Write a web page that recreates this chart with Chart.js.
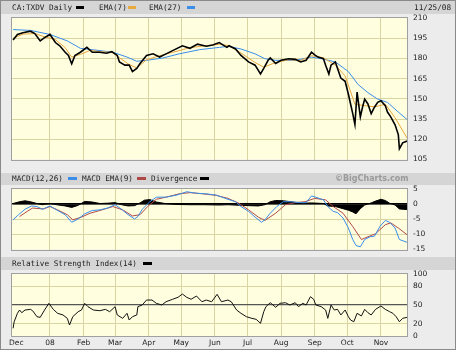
<!DOCTYPE html>
<html><head><meta charset="utf-8">
<script src="https://cdn.jsdelivr.net/npm/chart.js@4"></script>
<style>
html,body{margin:0;padding:0;background:#fff;}
#wrap{position:relative;width:459px;height:352px;overflow:hidden;background:#fff;}
#frame{position:absolute;left:0;top:0;width:454px;height:348px;background:#ececec;border:1px solid #8a8a8a;}
.band{position:absolute;left:1px;width:454px;background:#d5d5d5;}
.t{position:absolute;font-family:"DejaVu Sans Mono",monospace;font-size:7.7px;color:#222;white-space:nowrap;line-height:9px;z-index:5;}
.sw{position:absolute;height:3px;width:8px;z-index:5;}
canvas{position:absolute;left:0;z-index:3;}
</style></head>
<body>
<div id="wrap">
  <div id="frame"></div>
  <div class="band" style="top:1px;height:13px;"></div>
  <div class="band" style="top:173px;height:12px;"></div>
  <div class="band" style="top:257px;height:13px;"></div>

  <div class="t" style="left:12px;top:3px;">CA:TXDV Daily</div>
  <div class="sw" style="left:76px;top:6px;background:#000;"></div>
  <div class="t" style="left:99px;top:3px;">EMA(7)</div>
  <div class="sw" style="left:128px;top:6px;background:#e8a840;"></div>
  <div class="t" style="left:149px;top:3px;">EMA(27)</div>
  <div class="sw" style="left:187px;top:6px;background:#3a8ee8;"></div>
  <div class="t" style="left:414px;top:3px;">11/25/08</div>

  <div class="t" style="left:12px;top:174px;">MACD(12,26)</div>
  <div class="sw" style="left:68px;top:177px;width:9px;background:#3a8ee8;"></div>
  <div class="t" style="left:82px;top:174px;">MACD EMA(9)</div>
  <div class="sw" style="left:137px;top:177px;width:9px;background:#b04848;"></div>
  <div class="t" style="left:151px;top:174px;">Divergence</div>
  <div class="sw" style="left:200px;top:177px;width:9px;background:#000;"></div>
  <div class="t" style="left:335px;top:174px;font-family:'DejaVu Sans',sans-serif;font-weight:bold;font-size:8px;color:#9a9a9a;">©BigCharts.com</div>

  <div class="t" style="left:12px;top:259px;">Relative Strength Index(14)</div>
  <div class="sw" style="left:143px;top:262px;width:9px;background:#000;"></div>

  <canvas id="cPrice" width="459" height="170" style="top:0px;"></canvas>
  <canvas id="cMacd" width="459" height="90" style="top:170px;"></canvas>
  <canvas id="cRsi" width="459" height="90" style="top:262px;"></canvas>
</div>
<script>
// ---------- DATA ----------
const priceDates = ["2007-11-28","2007-12-02","2007-12-07","2007-12-14","2007-12-18","2007-12-23","2007-12-27","2008-01-01","2008-01-06","2008-01-10","2008-01-15","2008-01-18","2008-01-21","2008-01-24","2008-01-29","2008-02-04","2008-02-09","2008-02-16","2008-02-22","2008-02-27","2008-03-03","2008-03-05","2008-03-10","2008-03-14","2008-03-17","2008-03-21","2008-03-24","2008-03-30","2008-04-05","2008-04-11","2008-04-17","2008-04-23","2008-05-02","2008-05-09","2008-05-16","2008-05-24","2008-05-30","2008-06-05","2008-06-12","2008-06-14","2008-06-20","2008-06-25","2008-07-02","2008-07-08","2008-07-13","2008-07-16","2008-07-20","2008-07-22","2008-07-27","2008-08-01","2008-08-08","2008-08-14","2008-08-19","2008-08-24","2008-08-29","2008-09-01","2008-09-04","2008-09-09","2008-09-11","2008-09-14","2008-09-16","2008-09-20","2008-09-22","2008-09-25","2008-09-29","2008-10-02","2008-10-04","2008-10-06","2008-10-08","2008-10-10","2008-10-13","2008-10-15","2008-10-17","2008-10-20","2008-10-23","2008-10-26","2008-10-29","2008-11-01","2008-11-05","2008-11-07","2008-11-10","2008-11-14","2008-11-17","2008-11-18","2008-11-21","2008-11-25"];
const priceClose = [193.7,197.8,199.0,200.2,198.5,193.0,195.4,197.8,191.8,189.4,184.6,182.2,176.0,182.2,184.6,188.2,184.6,184.6,183.9,185.0,182.2,177.4,175.0,175.0,170.2,172.6,176.2,182.2,183.4,181.0,183.4,185.8,189.4,187.5,190.6,189.0,189.9,191.8,188.2,189.4,187.0,182.2,177.4,175.0,168.5,172.6,178.6,180.3,176.2,178.6,179.8,179.3,177.4,178.6,184.6,182.7,181.0,179.8,175.0,168.5,175.0,177.4,172.6,165.4,163.0,153.4,146.2,139.0,131.0,155.0,136.6,143.8,149.8,146.2,139.0,143.8,147.4,148.6,145.0,140.2,136.6,130.7,123.5,113.0,117.4,118.7];

const ema7Dates = ["2007-11-28","2007-12-07","2007-12-18","2007-12-27","2008-01-06","2008-01-15","2008-01-21","2008-01-29","2008-02-07","2008-02-16","2008-02-27","2008-03-05","2008-03-14","2008-03-21","2008-03-30","2008-04-11","2008-04-23","2008-05-09","2008-05-24","2008-06-05","2008-06-14","2008-06-25","2008-07-08","2008-07-16","2008-07-27","2008-08-08","2008-08-19","2008-08-29","2008-09-09","2008-09-20","2008-09-29","2008-10-08","2008-10-17","2008-10-26","2008-11-05","2008-11-14","2008-11-25"];
const ema7Values = [195,198,198.5,196,194,188,181,183,186,185,184.5,180.5,175.5,173,179,182,184.5,188,189.5,190.5,189.5,184,177,173.5,177,179,178.5,182,180.5,175,167,146,145,144,146,136,121];

const ema27Dates = ["2007-11-28","2007-12-14","2008-01-01","2008-01-17","2008-01-29","2008-02-16","2008-02-28","2008-03-12","2008-03-21","2008-03-30","2008-04-14","2008-04-29","2008-05-18","2008-06-05","2008-06-13","2008-06-25","2008-07-08","2008-07-17","2008-07-27","2008-08-14","2008-08-29","2008-09-07","2008-09-20","2008-10-02","2008-10-11","2008-10-20","2008-10-29","2008-11-07","2008-11-17","2008-11-25"];
const ema27Values = [201.4,200.8,197.8,193,187.5,185.8,184.6,181,177.9,178.6,180.3,183.4,186.5,188.2,189,187,183.4,179.8,178.6,178.6,181,179.8,177.4,170.2,160.6,154.6,149.8,147.4,140.2,134.7];

const macdDates = ["2007-11-28","2007-12-03","2007-12-09","2007-12-15","2007-12-20","2007-12-25","2008-01-01","2008-01-07","2008-01-15","2008-01-21","2008-01-27","2008-02-02","2008-02-09","2008-02-16","2008-02-23","2008-03-01","2008-03-07","2008-03-13","2008-03-19","2008-03-22","2008-03-26","2008-04-02","2008-04-08","2008-04-17","2008-04-27","2008-05-06","2008-05-15","2008-05-24","2008-06-02","2008-06-13","2008-06-20","2008-06-25","2008-07-02","2008-07-08","2008-07-14","2008-07-17","2008-07-22","2008-07-28","2008-08-03","2008-08-10","2008-08-19","2008-08-24","2008-08-29","2008-09-02","2008-09-09","2008-09-13","2008-09-18","2008-09-22","2008-09-27","2008-10-02","2008-10-06","2008-10-09","2008-10-13","2008-10-17","2008-10-22","2008-10-26","2008-10-31","2008-11-05","2008-11-09","2008-11-14","2008-11-18","2008-11-25"];
const macdValues = [-5.2,-3.5,-1.7,-0.6,-0.8,-1.7,-0.6,-1.9,-3.5,-6.0,-4.9,-3.2,-2.1,-1.9,-1.3,-0.2,-1.7,-3.5,-4.9,-4.1,-1.7,0.8,2.3,2.3,3.0,4.1,3.6,3.4,3.0,1.6,0.8,-0.8,-2.4,-4.3,-6.0,-5.2,-3.0,-0.8,0.8,0.8,0.5,0.5,2.7,2.3,1.4,-0.8,-2.4,-2.8,-4.6,-7.9,-11.7,-13.7,-14.1,-11.7,-10.8,-10.6,-7.4,-5.4,-6.0,-7.9,-11.7,-12.6];

const signalDates = ["2007-12-04","2007-12-11","2007-12-16","2007-12-26","2008-01-01","2008-01-08","2008-01-17","2008-01-22","2008-01-30","2008-02-07","2008-02-16","2008-02-28","2008-03-08","2008-03-17","2008-03-24","2008-03-31","2008-04-08","2008-04-17","2008-04-29","2008-05-09","2008-05-21","2008-06-02","2008-06-13","2008-06-23","2008-07-02","2008-07-11","2008-07-17","2008-07-27","2008-08-05","2008-08-14","2008-08-23","2008-09-01","2008-09-11","2008-09-18","2008-09-27","2008-10-06","2008-10-14","2008-10-20","2008-10-27","2008-11-05","2008-11-10","2008-11-17","2008-11-25"];
const signalValues = [-4.1,-2.4,-1.3,-1.6,-0.8,-1.9,-3.5,-5.2,-4.3,-3.0,-2.1,-0.8,-1.9,-3.9,-3.5,-0.8,1.6,2.3,3.4,3.8,3.4,2.9,1.9,0.3,-1.9,-4.3,-5.4,-3.0,-0.2,0.5,0.8,1.9,1.4,-0.8,-3.0,-7.4,-11.7,-10.8,-9.8,-6.8,-6.2,-7.9,-10.1];

const divDates = ["2007-11-28","2007-12-04","2007-12-09","2007-12-14","2007-12-20","2007-12-25","2008-01-01","2008-01-07","2008-01-15","2008-01-21","2008-01-27","2008-02-02","2008-02-09","2008-02-16","2008-02-23","2008-03-01","2008-03-07","2008-03-13","2008-03-19","2008-03-24","2008-03-28","2008-04-02","2008-04-08","2008-04-16","2008-04-25","2008-05-09","2008-05-22","2008-06-05","2008-06-13","2008-06-24","2008-07-02","2008-07-11","2008-07-17","2008-07-22","2008-07-27","2008-08-03","2008-08-10","2008-08-19","2008-08-29","2008-09-09","2008-09-13","2008-09-20","2008-09-27","2008-10-02","2008-10-06","2008-10-09","2008-10-13","2008-10-17","2008-10-23","2008-10-27","2008-11-01","2008-11-05","2008-11-09","2008-11-14","2008-11-18","2008-11-25"];
const divValues = [0.2,0.8,1.1,0.8,0.2,-0.2,0.2,-0.2,-0.6,-1.1,-0.4,0.9,0.7,0.2,0.3,0.5,-0.2,-0.6,-0.5,0.4,1.3,1.5,0.7,0.2,-0.1,-0.2,-0.2,-0.3,-0.2,-0.4,-0.5,-0.6,-0.2,0.8,1.2,1.1,0.8,0.3,0.4,0.2,-0.6,-0.8,-1.5,-2.0,-2.6,-3.2,-1.5,-0.3,0.4,1.0,1.6,1.2,0.3,-0.3,-1.6,-1.8];

const rsiDates = ["2007-11-28","2007-11-29","2007-12-02","2007-12-04","2007-12-06","2007-12-09","2007-12-14","2007-12-16","2007-12-20","2007-12-23","2007-12-27","2007-12-31","2008-01-04","2008-01-08","2008-01-13","2008-01-17","2008-01-19","2008-01-22","2008-01-27","2008-01-30","2008-02-02","2008-02-05","2008-02-10","2008-02-16","2008-02-21","2008-02-25","2008-03-01","2008-03-03","2008-03-08","2008-03-12","2008-03-14","2008-03-17","2008-03-21","2008-03-22","2008-03-26","2008-03-30","2008-04-04","2008-04-08","2008-04-13","2008-04-17","2008-04-23","2008-04-28","2008-05-02","2008-05-06","2008-05-10","2008-05-15","2008-05-20","2008-05-24","2008-05-29","2008-06-03","2008-06-07","2008-06-13","2008-06-16","2008-06-21","2008-06-25","2008-06-30","2008-07-05","2008-07-09","2008-07-13","2008-07-16","2008-07-18","2008-07-22","2008-07-27","2008-07-31","2008-08-05","2008-08-09","2008-08-14","2008-08-17","2008-08-21","2008-08-24","2008-08-28","2008-08-31","2008-09-02","2008-09-07","2008-09-11","2008-09-13","2008-09-16","2008-09-19","2008-09-22","2008-09-25","2008-09-29","2008-10-02","2008-10-04","2008-10-07","2008-10-10","2008-10-14","2008-10-17","2008-10-20","2008-10-23","2008-10-27","2008-11-01","2008-11-05","2008-11-09","2008-11-12","2008-11-15","2008-11-18","2008-11-21","2008-11-25"];
const rsiValues = [12.4,23,36.6,41.9,37.6,41.9,43,40.8,31.1,30.1,41.9,52.7,43,36.6,33.9,28.5,17.7,31.1,39.2,41.9,52.7,47.3,41.9,40.8,43,39.2,47.3,33.9,28.5,36.6,25.8,31.1,33.9,47.3,50,58,58,52.7,50,55.3,59.2,62.4,67.7,62.4,59.2,64.5,55.3,58,55.3,67.2,55.3,58,55.3,41.9,36.6,31.1,28.5,26.9,20.5,39.2,47.3,53.7,46.3,52.7,53.7,50,53.7,47.3,52.7,50,63.4,59.2,50,47.3,41.9,28.5,50,41.9,43,33.9,41.9,31.1,25.8,23,36.6,32.3,43,37.6,33.9,43,48.4,43,39.2,36.6,31.1,23,28.5,30.1];

const monthTickDates = ["2007-12-01","2008-01-01","2008-02-01","2008-03-01","2008-04-01","2008-05-01","2008-06-01","2008-07-01","2008-08-01","2008-09-01","2008-10-01","2008-11-01"];
const monthTickLabels = ["Dec","08","Feb","Mar","Apr","May","Jun","Jul","Aug","Sep","Oct","Nov"];
const priceTicks = [105,120,135,150,165,180,195,210];
const macdTicks = [-15,-10,-5,0,5];
const rsiTicks = [0,20,50,80,100];
const rangeStart = "2007-11-27", rangeEnd = "2008-11-25";

// ---------- HELPERS ----------
const DAY0 = Date.UTC(2008,0,1);
function dayOf(s){ const [y,m,d] = s.split('-').map(Number); return (Date.UTC(y,m-1,d)-DAY0)/864e5; }
function pts(dates, vals){ return dates.map((d,i)=>({x:dayOf(d), y:vals[i]})); }
const monthDays = monthTickDates.map(dayOf);
const GRID = '#d8d5a2';
const PLOT_BG = '#ffffe0';
const LABEL_FONT = {family:'DejaVu Sans', size:7.5};

const plotBg = {
  id:'plotBg',
  beforeDraw(chart){
    const {ctx, chartArea:a} = chart;
    ctx.save(); ctx.fillStyle = PLOT_BG;
    ctx.fillRect(a.left, a.top, a.right-a.left, a.bottom-a.top);
    ctx.restore();
  },
  afterDraw(chart){
    const {ctx, chartArea:a} = chart;
    ctx.save(); ctx.strokeStyle = '#a0a0a0'; ctx.lineWidth = 1;
    ctx.strokeRect(Math.round(a.left)-0.5, Math.round(a.top)-0.5, Math.round(a.right-a.left)+1, Math.round(a.bottom-a.top)+1);
    ctx.restore();
  }
};

function xScale(showLabels, h){
  return {
    type:'linear', min: dayOf(rangeStart), max: dayOf(rangeEnd),
    afterBuildTicks: s => { s.ticks = monthDays.map(v=>({value:v})); },
    afterFit: s => { s.height = h; },
    grid:{ drawTicks:false, lineWidth:1, color: c => (c.index === 0 ? 'rgba(0,0,0,0)' : GRID) },
    border:{display:false},
    ticks:{ display:showLabels, autoSkip:false, maxRotation:0, minRotation:0, padding:3, color:'#222', font:LABEL_FONT,
      callback: v => { const i = monthDays.indexOf(v); return i >= 0 ? monthTickLabels[i] : ''; } }
  };
}
function yScale(min, max, ticks, colorFn, widthFn){
  return {
    type:'linear', position:'right', min, max,
    afterBuildTicks: s => { s.ticks = ticks.map(v=>({value:v})); },
    afterFit: s => { s.width = 48; },
    grid:{ drawTicks:false, color: colorFn, lineWidth: widthFn || 1 },
    border:{display:false},
    ticks:{ padding:6, color:'#222', font:LABEL_FONT, autoSkip:false }
  };
}
function lineDs(data, color, width){
  return {data, borderColor:color, borderWidth:width, pointRadius:0, tension:0, fill:false};
}
const common = {
  responsive:false, animation:false, devicePixelRatio:1,
  plugins:{legend:{display:false}, tooltip:{enabled:false}},
  events:[]
};

// ---------- PRICE ----------
new Chart(document.getElementById('cPrice'), {
  type:'line',
  data:{ datasets:[
    lineDs(pts(priceDates, priceClose), '#000', 1.6),
    lineDs(pts(ema7Dates, ema7Values), '#e6a640', 1),
    lineDs(pts(ema27Dates, ema27Values), '#3a8ee8', 1)
  ]},
  options:Object.assign({}, common, {
    layout:{padding:{left:12, right:4, top:18, bottom:6}},
    scales:{
      x: xScale(false, 0),
      y: yScale(105, 210, priceTicks, c => (c.tick.value===105||c.tick.value===210) ? 'rgba(0,0,0,0)' : GRID)
    }
  }),
  plugins:[plotBg]
});

// ---------- MACD ----------
new Chart(document.getElementById('cMacd'), {
  type:'line',
  data:{ datasets:[
    lineDs(pts(macdDates, macdValues), '#3a8ee8', 1),
    lineDs(pts(signalDates, signalValues), '#b04848', 1),
    {data:pts(divDates, divValues), borderColor:'#000', backgroundColor:'#000', borderWidth:1, pointRadius:0, tension:0, fill:'origin'}
  ]},
  options:Object.assign({}, common, {
    layout:{padding:{left:12, right:4, top:19, bottom:10}},
    scales:{
      x: xScale(false, 0),
      y: yScale(-15, 5, macdTicks,
        c => c.tick.value===0 ? '#000' : ((c.tick.value===5||c.tick.value===-15) ? 'rgba(0,0,0,0)' : GRID),
        c => c.tick.value===0 ? 1.5 : 1)
    }
  }),
  plugins:[plotBg]
});

// ---------- RSI ----------
new Chart(document.getElementById('cRsi'), {
  type:'line',
  data:{ datasets:[ lineDs(pts(rsiDates, rsiValues), '#111', 1) ]},
  options:Object.assign({}, common, {
    layout:{padding:{left:12, right:4, top:12, bottom:2}},
    scales:{
      x: xScale(true, 14),
      y: yScale(0, 100, rsiTicks,
        c => c.tick.value===50 ? '#555' : ((c.tick.value===0||c.tick.value===100) ? 'rgba(0,0,0,0)' : GRID),
        c => c.tick.value===50 ? 1.2 : 1)
    }
  }),
  plugins:[plotBg]
});
</script>
</body></html>
